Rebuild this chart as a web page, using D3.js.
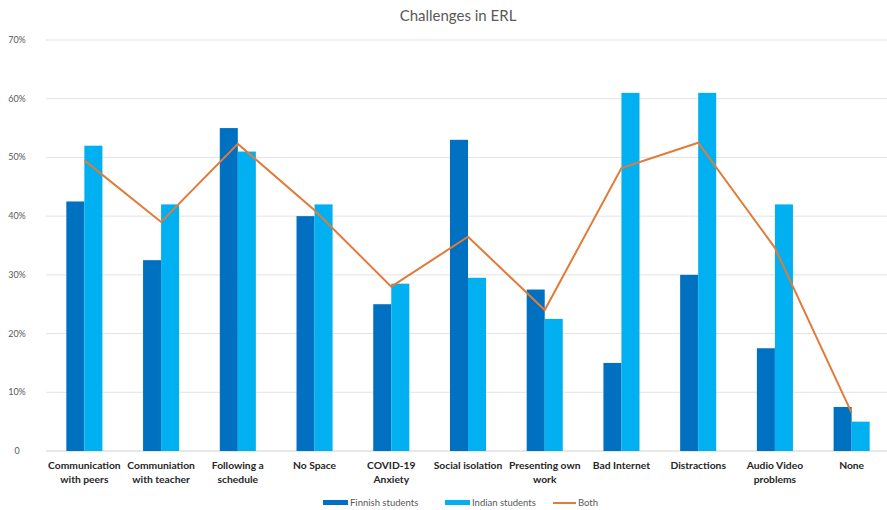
<!DOCTYPE html>
<html><head><meta charset="utf-8">
<script src="https://cdn.jsdelivr.net/npm/d3@7"></script>
<style>body{margin:0;background:#fff}svg{display:block;font-family:Lato,"Open Sans",sans-serif}</style>
</head><body>
<svg id="c" width="887" height="510"></svg>
<script>
const categories = [["Communication","with peers"],["Communiation","with teacher"],["Following a","schedule"],["No Space"],["COVID-19","Anxiety"],["Social isolation"],["Presenting own","work"],["Bad Internet"],["Distractions"],["Audio Video","problems"],["None"]];
const finnish = [42.5, 32.5, 55, 40, 25, 53, 27.5, 15, 30, 17.5, 7.5];
const indian  = [52, 42, 51, 42, 28.5, 29.5, 22.5, 61, 61, 42, 5];
const both    = [49.5, 39, 52.3, 41, 28, 36.5, 24, 48.2, 52.5, 34.6, 6.5];
const yTicks = [0,10,20,30,40,50,60,70];
const seriesNames = ["Finnish students","Indian students","Both"];
const colors = ["#0070C0","#00B0F0","#E07B39"];

const svg = d3.select("#c");
const L = 46, R = 890, T = 40, B = 451;
const x = d3.scaleBand().domain(d3.range(categories.length)).range([L, R]).padding(0);
const y = d3.scaleLinear().domain([0,70]).range([B, T]);
const bw = x.bandwidth()*0.235;

svg.append("text").attr("x", 458).attr("y", 21).attr("text-anchor","middle")
  .attr("font-size", 15).attr("fill","#595959").text("Challenges in ERL");

// grid
svg.append("g").selectAll("line").data(yTicks).join("line")
  .attr("x1", L).attr("x2", 887).attr("y1", d=>y(d)).attr("y2", d=>y(d))
  .attr("stroke", d=> d===0 ? "#cfcfcf" : "#e3e3e3").attr("stroke-width",1);

// y labels
svg.append("g").selectAll("text").data(yTicks).join("text")
  .attr("x", 17).attr("y", d=>y(d)+3).attr("text-anchor","middle")
  .attr("font-size", 9).attr("fill","#595959")
  .text(d=> d===0 ? "0" : d+"%");

const cx = i => x(i) + x.bandwidth()/2;
// bars
svg.append("g").selectAll("rect").data(finnish).join("rect")
  .attr("x", (d,i)=>cx(i)-bw).attr("width", bw)
  .attr("y", d=>y(d)).attr("height", d=>B-y(d)).attr("fill", colors[0]);
svg.append("g").selectAll("rect").data(indian).join("rect")
  .attr("x", (d,i)=>cx(i)).attr("width", bw)
  .attr("y", d=>y(d)).attr("height", d=>B-y(d)).attr("fill", colors[1]);

// line
svg.append("path").datum(both)
  .attr("d", d3.line().x((d,i)=>cx(i)).y(d=>y(d)))
  .attr("fill","none").attr("stroke", colors[2]).attr("stroke-width", 2);

// x labels
const xl = svg.append("g").selectAll("text").data(categories).join("text")
  .attr("x", (d,i)=>cx(i)).attr("y", 469).attr("text-anchor","middle")
  .attr("font-size", 10.3).attr("font-weight","bold").attr("fill","#262626");
xl.each(function(d){
  const t = d3.select(this);
  d.forEach((s,k)=> t.append("tspan").attr("x", t.attr("x")).attr("dy", k===0?0:14).text(s));
});

// legend
const lg = [{x:323,t:"rect"},{x:445,t:"rect"},{x:553,t:"line"}];
lg.forEach((o,i)=>{
  if(o.t==="rect") svg.append("rect").attr("x",o.x).attr("y",500).attr("width",25).attr("height",5).attr("fill",colors[i]);
  else svg.append("line").attr("x1",o.x).attr("x2",o.x+23).attr("y1",503).attr("y2",503).attr("stroke",colors[i]).attr("stroke-width",2);
  svg.append("text").attr("x", o.x + (o.t==="rect"?27:25)).attr("y",506).attr("font-size",9.5).attr("fill","#595959").text(seriesNames[i]);
});
</script>
</body></html>
